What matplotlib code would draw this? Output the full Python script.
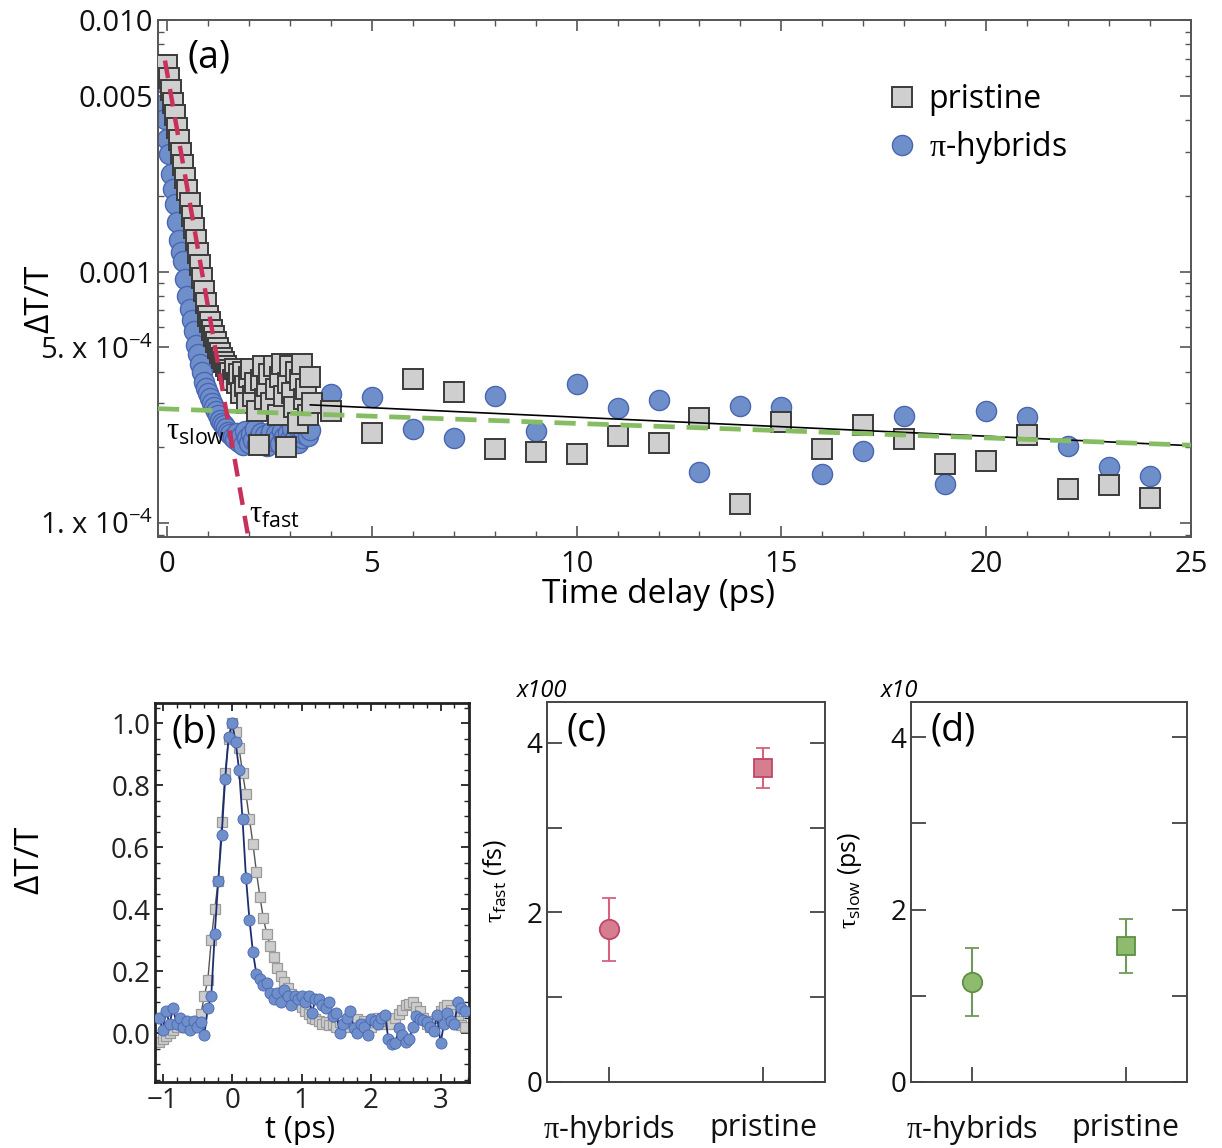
import numpy as np
import matplotlib
matplotlib.use('Agg')
import matplotlib.pyplot as plt
from matplotlib.ticker import FixedLocator, FixedFormatter, MultipleLocator, LogLocator, NullFormatter

FONT = 'Open Sans'
plt.rcParams['font.family'] = [FONT, 'DejaVu Sans']
plt.rcParams['mathtext.fontset'] = 'custom'
plt.rcParams['mathtext.rm'] = FONT
plt.rcParams['mathtext.it'] = FONT + ':italic'
plt.rcParams['mathtext.bf'] = 'Liberation Serif'
plt.rcParams['mathtext.sf'] = FONT

# ---------------- data: panel (a) ----------------
# pristine, early delays (ps) and dT/T (x1e-3)
a_pri_t_early = [0.00, 0.05, 0.10, 0.15, 0.20, 0.25, 0.30, 0.35, 0.40, 0.45, 0.50, 0.55, 0.60, 0.65,
                 0.70, 0.75, 0.80, 0.85, 0.90, 0.95, 1.00, 1.05, 1.10, 1.15, 1.20, 1.25, 1.30, 1.35,
                 1.40, 1.45, 1.50, 1.55, 1.60, 1.65, 1.70, 1.75, 1.80, 1.85, 1.90, 1.95, 2.00, 2.05,
                 2.10, 2.15, 2.20, 2.25, 2.30, 2.35, 2.40, 2.45, 2.50, 2.55, 2.60, 2.65, 2.70, 2.75,
                 2.80, 2.85, 2.90, 2.95, 3.00, 3.05, 3.10, 3.15, 3.20, 3.25, 3.30, 3.35, 3.40, 3.45,
                 3.50, 3.55]
a_pri_v_early = [6.62, 5.90, 5.26, 4.69, 4.18, 3.73, 3.32, 2.96, 2.64, 2.36, 2.10, 1.87, 1.67, 1.49,
                 1.33, 1.18, 1.06, 0.942, 0.840, 0.750, 0.668, 0.632, 0.587, 0.556, 0.526, 0.498,
                 0.476, 0.455, 0.438, 0.422, 0.407, 0.395, 0.372, 0.41, 0.36, 0.39, 0.33, 0.40, 0.35,
                 0.30, 0.38, 0.41, 0.32, 0.36, 0.28, 0.205, 0.37, 0.42, 0.31, 0.35, 0.39, 0.30, 0.42,
                 0.34, 0.27, 0.38, 0.43, 0.32, 0.201, 0.36, 0.42, 0.33, 0.29, 0.40, 0.25, 0.37, 0.43,
                 0.31, 0.34, 0.27, 0.38, 0.30]
# pi-hybrids, early delays (ps) and dT/T (x1e-3)
a_hyb_t_early = [-0.15, -0.10, -0.05, 0.00, 0.05, 0.10, 0.15, 0.20, 0.25, 0.30, 0.35, 0.40, 0.45,
                 0.50, 0.55, 0.60, 0.65, 0.70, 0.75, 0.80, 0.85, 0.90, 0.95, 1.00, 1.05, 1.10, 1.15,
                 1.20, 1.25, 1.30, 1.35, 1.40, 1.45, 1.50, 1.55, 1.60, 1.65, 1.70, 1.75, 1.80, 1.85,
                 1.90, 1.95, 2.00, 2.05, 2.10, 2.15, 2.20, 2.25, 2.30, 2.35, 2.40, 2.45, 2.50, 2.55,
                 2.60, 2.65, 2.70, 2.75, 2.80, 2.85, 2.90, 2.95, 3.00, 3.05, 3.10, 3.15, 3.20, 3.25,
                 3.30, 3.35, 3.40, 3.45, 3.50]
a_hyb_v_early = [5.66, 4.6, 4.03, 3.35, 2.93, 2.44, 2.12, 1.85, 1.58, 1.34, 1.20, 1.10, 0.93, 0.80,
                 0.71, 0.64, 0.58, 0.51, 0.47, 0.43, 0.40, 0.365, 0.345, 0.33, 0.315, 0.30, 0.29,
                 0.28, 0.268, 0.257, 0.25, 0.245, 0.238, 0.23, 0.225, 0.22, 0.215, 0.228, 0.210,
                 0.222, 0.205, 0.232, 0.218, 0.209, 0.226, 0.214, 0.236, 0.207, 0.220, 0.229, 0.212,
                 0.224, 0.203, 0.218, 0.231, 0.211, 0.225, 0.216, 0.206, 0.233, 0.219, 0.210, 0.227,
                 0.215, 0.238, 0.212, 0.222, 0.208, 0.230, 0.217, 0.226, 0.240, 0.221, 0.235]
# long delays
a_t_late = [4, 5, 6, 7, 8, 9, 10, 11, 12, 13, 14, 15, 16, 17, 18, 19, 20, 21, 22, 23, 24]
a_pri_v_late = [0.279, 0.228, 0.375, 0.333, 0.197, 0.192, 0.188, 0.222, 0.208, 0.262, 0.119, 0.252,
                0.197, 0.246, 0.216, 0.172, 0.177, 0.224, 0.136, 0.142, 0.126]
a_hyb_v_late = [0.327, 0.318, 0.237, 0.218, 0.321, 0.233, 0.358, 0.287, 0.309, 0.160, 0.292, 0.290,
                0.157, 0.194, 0.267, 0.143, 0.279, 0.264, 0.203, 0.167, 0.154]
# fits (endpoints, dT/T x1e-3)
fit_fast_t = [-0.05, 2.0]
fit_fast_v = [6.9, 0.085]
fit_slow_t = [-0.22, 25.0]
fit_slow_v = [0.285, 0.204]
fit_slow_black_t = [3.5, 25.0]
fit_slow_black_v = [0.295, 0.203]

# ---------------- data: panel (b) ----------------
b_t = [-1.05, -1.00, -0.95, -0.90, -0.85, -0.80, -0.75, -0.70, -0.65, -0.60, -0.55, -0.50, -0.45,
       -0.40, -0.35, -0.30, -0.25, -0.20, -0.15, -0.10, -0.05, 0.00, 0.05, 0.10, 0.15, 0.20, 0.25,
       0.30, 0.35, 0.40, 0.45, 0.50, 0.55, 0.60, 0.65, 0.70, 0.75, 0.80, 0.85, 0.90, 0.95, 1.00,
       1.05, 1.10, 1.15, 1.20, 1.25, 1.30, 1.35, 1.40, 1.45, 1.50, 1.55, 1.60, 1.65, 1.70, 1.75,
       1.80, 1.85, 1.90, 1.95, 2.00, 2.05, 2.10, 2.15, 2.20, 2.25, 2.30, 2.35, 2.40, 2.45, 2.50,
       2.55, 2.60, 2.65, 2.70, 2.75, 2.80, 2.85, 2.90, 2.95, 3.00, 3.05, 3.10, 3.15, 3.20, 3.25,
       3.30, 3.35]
b_hyb = [0.05, 0.01, 0.07, 0.03, 0.08, 0.03, 0.05, 0.02, 0.04, 0.01, 0.04, 0.02, 0.035, -0.005,
         0.08, 0.12, 0.32, 0.49, 0.64, 0.82, 0.955, 1.00, 0.94, 0.85, 0.69, 0.50, 0.365, 0.26, 0.19,
         0.175, 0.155, 0.16, 0.13, 0.11, 0.13, 0.10, 0.14, 0.12, 0.09, 0.12, 0.11, 0.12, 0.10, 0.12,
         0.065, 0.11, 0.11, 0.09, 0.08, 0.10, 0.055, 0.065, 0.00, 0.03, 0.05, 0.07, 0.015, 0.00,
         0.03, 0.02, -0.005, 0.045, 0.04, 0.03, 0.05, 0.058, -0.02, -0.035, -0.033, 0.015, -0.005,
         -0.03, -0.02, 0.02, 0.055, 0.045, 0.042, 0.036, 0.02, 0.005, 0.058, -0.033, 0.03, 0.065,
         0.04, 0.03, 0.10, 0.08, 0.07]
b_pri = [-0.03, -0.02, -0.01, 0.00, 0.01, 0.02, 0.03, 0.02, 0.03, 0.02, 0.03, 0.03, 0.06, 0.12,
         0.17, 0.30, 0.40, 0.49, 0.68, 0.84, 0.95, 1.00, 0.97, 0.92, 0.84, 0.77, 0.69, 0.61, 0.52,
         0.44, 0.37, 0.32, 0.28, 0.245, 0.21, 0.185, 0.165, 0.145, 0.125, 0.11, 0.095, 0.085, 0.07,
         0.06, 0.05, 0.045, 0.04, 0.03, 0.035, 0.025, 0.03, 0.02, 0.035, 0.04, 0.02, 0.04, 0.03,
         0.045, 0.025, 0.04, 0.03, 0.02, 0.035, 0.05, 0.03, 0.045, 0.04, 0.03, 0.05, 0.06, 0.075,
         0.09, 0.095, 0.10, 0.085, 0.07, 0.05, 0.03, 0.02, 0.04, 0.05, 0.07, 0.085, 0.09, 0.075,
         0.06, 0.04, 0.025, 0.02]

# ---------------- data: panels (c), (d) ----------------
samples = ['π-hybrids', 'pristine']
tau_fast = [1.80, 3.70]        # x100 fs
tau_fast_err = [0.37, 0.235]
tau_slow = [1.16, 1.575]       # x10 ps
tau_slow_err = [0.39, 0.315]

# ---------------- styling ----------------
SQ_FACE, SQ_EDGE = '#cfcfcf', '#3a3a3a'
CI_FACE, CI_EDGE = '#6f8fcb', '#4a66b3'
SPINE = '#555555'

fig = plt.figure(figsize=(12.22, 11.48), dpi=100)
W, H = 1222, 1148


def add_ax(l, t, r, b):
    return fig.add_axes([l / W, 1 - b / H, (r - l) / W, (b - t) / H])


# ================= panel (a) =================
ax = add_ax(158, 20, 1191, 537)
s = 1e-3
ax.plot(a_hyb_t_early + a_t_late, np.array(a_hyb_v_early + a_hyb_v_late) * s, 'o', ms=14.5,
        mfc=CI_FACE, mec=CI_EDGE, mew=1.0, ls='none', label=r'$\mathbf{\pi}$-hybrids', zorder=2)
ax.plot(a_pri_t_early + a_t_late, np.array(a_pri_v_early + a_pri_v_late) * s, 's', ms=14.5,
        mfc=SQ_FACE, mec=SQ_EDGE, mew=1.4, ls='none', label='pristine', zorder=3)
ax.plot(fit_slow_black_t, np.array(fit_slow_black_v) * s, '-', color='black', lw=1.2, zorder=4)
ax.plot(fit_slow_t, np.array(fit_slow_v) * s, '--', color='#86bd62', lw=3.4, dashes=(4.5, 2.5), zorder=5)
ax.plot(fit_fast_t, np.array(fit_fast_v) * s, '--', color='#c8305a', lw=3.2, dashes=(4, 2.5), zorder=5)
ax.set_yscale('log')
ax.set_xlim(-0.22, 25.0)
ax.set_ylim(8.8e-5, 1.0e-2)
ax.xaxis.set_major_locator(MultipleLocator(5))
ax.xaxis.set_minor_locator(MultipleLocator(1))
ax.yaxis.set_major_locator(FixedLocator([1e-4, 5e-4, 1e-3, 5e-3, 1e-2]))
ax.yaxis.set_major_formatter(FixedFormatter(['1. x 10$^{-4}$', '5. x 10$^{-4}$', '0.001', '0.005', '0.010']))
ax.yaxis.set_minor_locator(LogLocator(base=10, subs=np.arange(2, 10), numticks=20))
ax.yaxis.set_minor_formatter(NullFormatter())
ax.tick_params(which='both', direction='in', top=True, right=True, colors=SPINE, labelcolor='#111111',
               labelsize=21)
ax.tick_params(axis='x', which='major', pad=9)
ax.tick_params(which='major', length=8, width=1.2)
ax.tick_params(which='minor', length=4, width=1.0)
for sp in ax.spines.values():
    sp.set_color(SPINE)
    sp.set_linewidth(1.4)
ax.set_xlabel('Time delay (ps)', fontsize=24)
ax.xaxis.set_label_coords(0.4845, -0.080)
ax.set_ylabel('ΔT/T', fontsize=24)
ax.yaxis.set_label_coords(-0.098, 0.46)
ax.text(0.029, 0.965, '(a)', transform=ax.transAxes, fontsize=27, va='top', ha='left')
ax.text(-0.03, 2.31e-4, r'$\mathbf{\tau}_{\mathrm{slow}}$', fontsize=22, va='center', ha='left')
ax.text(2.0, 1.08e-4, r'$\mathbf{\tau}_{\mathrm{fast}}$', fontsize=22, va='center', ha='left')
h, l = ax.get_legend_handles_labels()
leg = ax.legend([h[1], h[0]], [l[1], l[0]], loc='upper left', bbox_to_anchor=(0.692, 0.902),
                frameon=False, fontsize=23, handletextpad=0.35, labelspacing=0.40,
                handlelength=1.0, borderaxespad=0)

# ================= panel (b) =================
bx = add_ax(155, 703, 469, 1082)
bx.plot(b_t, b_pri, '-s', color='#555555', lw=1.0, ms=7, mfc='#cdcdcd', mec='#9a9a9a', mew=0.9, zorder=2)
bx.plot(b_t, b_hyb, '-o', color='#1d2d6e', lw=1.3, ms=8, mfc=CI_FACE, mec=CI_EDGE, mew=0.6, zorder=3)
bx.set_xlim(-1.11, 3.41)
bx.set_ylim(-0.158, 1.065)
bx.xaxis.set_major_locator(MultipleLocator(1))
bx.xaxis.set_minor_locator(MultipleLocator(0.2))
bx.yaxis.set_major_locator(FixedLocator([0.0, 0.2, 0.4, 0.6, 0.8, 1.0]))
bx.yaxis.set_major_formatter(FixedFormatter(['0.0', '0.2', '0.4', '0.6', '0.8', '1.0']))
bx.yaxis.set_minor_locator(MultipleLocator(0.05))
bx.tick_params(which='both', direction='in', top=True, right=True, labelsize=20, colors='#222222')
bx.tick_params(which='major', length=6, width=1.3)
bx.tick_params(which='minor', length=3.5, width=1.0)
for sp in bx.spines.values():
    sp.set_color('#222222')
    sp.set_linewidth(2.0)
bx.set_xlabel('t (ps)', fontsize=22)
bx.xaxis.set_label_coords(0.462, -0.088)
bx.set_ylabel('ΔT/T', fontsize=24)
bx.yaxis.set_label_coords(-0.345, 0.586)
bx.text(0.054, 0.972, '(b)', transform=bx.transAxes, fontsize=27, va='top', ha='left')


# ================= panels (c), (d) =================
def tau_panel(box, vals, errs, face, edge, ecol, ylabel, mult, tag, ylim_top, lab_x):
    cx = add_ax(*box)
    cx.errorbar([0], [vals[0]], yerr=[errs[0]], fmt='o', ms=14, mfc=face, mec=edge, mew=1.3,
                ecolor=ecol, elinewidth=1.5, capsize=5, capthick=1.5, zorder=3)
    cx.errorbar([1], [vals[1]], yerr=[errs[1]], fmt='s', ms=12.5, mfc=face, mec=edge, mew=1.3,
                ecolor=ecol, elinewidth=1.5, capsize=5, capthick=1.5, zorder=3)
    cx.set_xlim(-0.40, 1.40)
    cx.set_ylim(0, ylim_top)
    cx.set_xticks([0, 1])
    cx.set_xticklabels([r'$\mathbf{\pi}$-hybrids', 'pristine'], fontsize=22)
    cx.yaxis.set_major_locator(FixedLocator([0, 2, 4]))
    cx.yaxis.set_major_formatter(FixedFormatter(['0', '2', '4']))
    cx.yaxis.set_minor_locator(FixedLocator([1, 3]))
    cx.tick_params(axis='y', which='both', direction='in', left=True, right=True, labelsize=20,
                   colors='#333333', labelcolor='#111111')
    cx.tick_params(axis='y', which='major', length=11, width=1.2)
    cx.tick_params(axis='y', which='minor', length=11, width=1.2)
    cx.tick_params(axis='x', direction='in', length=11, width=1.2, pad=22, colors='#333333',
                   labelcolor='#111111')
    for sp in cx.spines.values():
        sp.set_color('#444444')
        sp.set_linewidth(1.4)
    cx.set_ylabel(ylabel, fontsize=18)
    cx.yaxis.set_label_coords(lab_x, 0.53)
    cx.text(-0.11, 0.997, mult, transform=cx.transAxes, fontsize=17, style='italic', va='bottom',
            ha='left')
    cx.text(0.07, 0.975, tag, transform=cx.transAxes, fontsize=27, va='top', ha='left')
    return cx


tau_panel((547, 702, 825, 1082), tau_fast, tau_fast_err, '#d57e8f', '#c2456a', '#d8617f',
          r'$\mathbf{\tau}_{\mathrm{fast}}$ (fs)', 'x100', '(c)', 4.48, -0.14)
tau_panel((911, 702, 1187, 1082), tau_slow, tau_slow_err, '#8fbb6e', '#5d8f45', '#6f9a5a',
          r'$\mathbf{\tau}_{\mathrm{slow}}$ (ps)', 'x10', '(d)', 4.41, -0.17)

fig.savefig('out.png', dpi=100)
